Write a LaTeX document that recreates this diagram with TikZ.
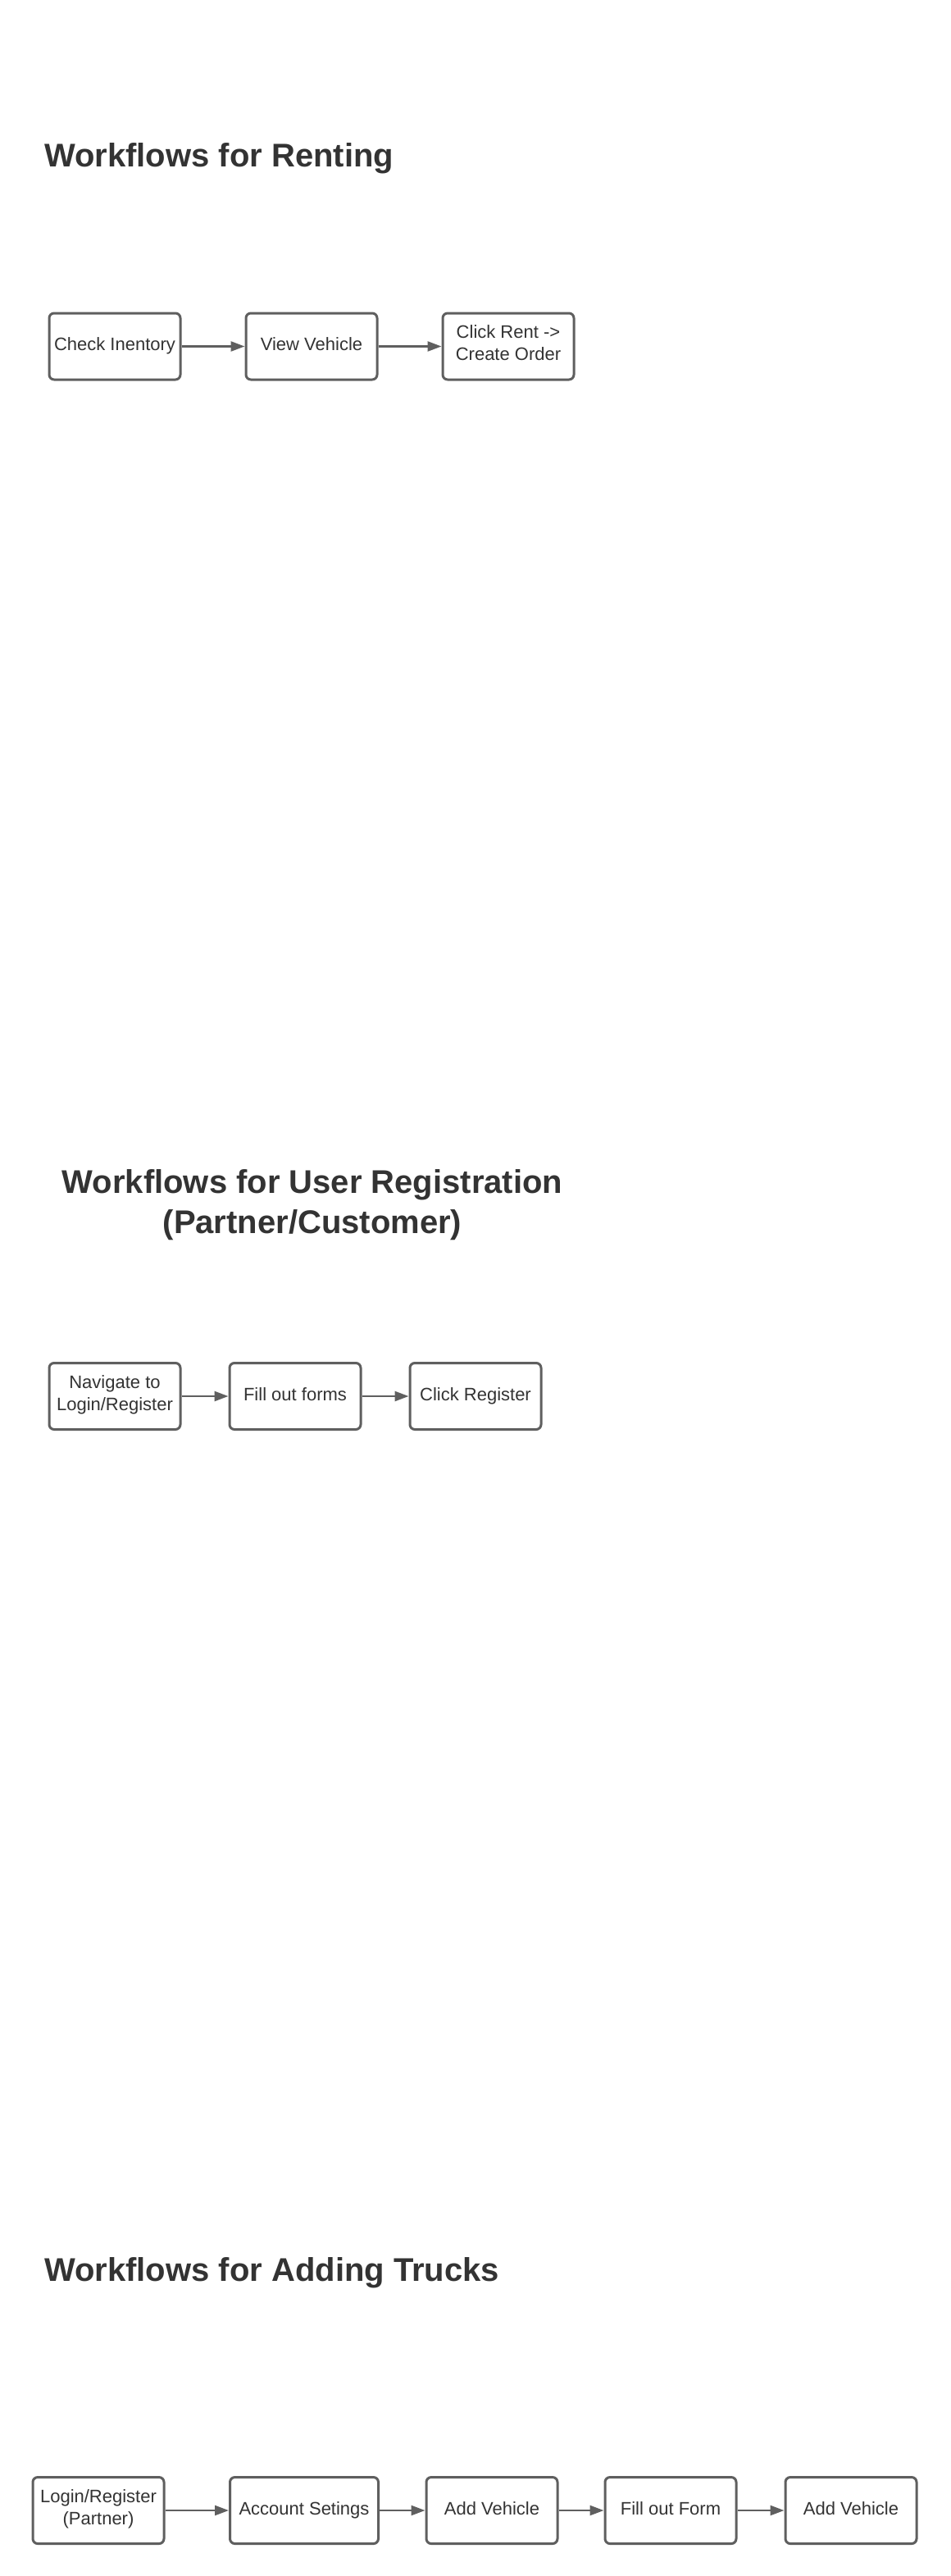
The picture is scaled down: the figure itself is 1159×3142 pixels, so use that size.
\documentclass[tikz,border=0pt]{standalone}
\usepackage{fontspec}
\setmainfont{Liberation Sans}
\usetikzlibrary{arrows.meta}
\definecolor{boxline}{HTML}{5F5F5F}
\definecolor{txt}{HTML}{333333}
\begin{document}
\begin{tikzpicture}[x=1pt,y=-1pt,
  titletext/.style={inner sep=0pt, text=txt, font=\bfseries\fontsize{40}{49}\selectfont, align=center},
  stepbox/.style={draw=boxline, line width=3pt, rounded corners=6pt, fill=white,
    minimum width=160pt, minimum height=81pt, inner sep=2pt, text=txt,
    font=\fontsize{22}{27}\selectfont, align=center,
    execute at begin node=\strut, execute at end node=\strut},
  flow/.style={draw=boxline, line width=2.5pt, -{Triangle[length=17pt,width=12pt]}}]
\useasboundingbox[fill=white] (0,0) rectangle (1159,3142);

% Section 1
\node[titletext, anchor=base west] (t1) at (54,203) {Workflows for Renting};
\node[stepbox] (r1) at (140,422.5) {Check Inentory};
\node[stepbox] (r2) at (380,422.5) {View Vehicle};
\node[stepbox] (r3) at (620,422.5) {Click Rent ->\\Create Order};
\draw[flow] (r1) -- (r2);
\draw[flow] (r2) -- (r3);

% Section 2
\node[titletext] (t2) at (381,1470) {Workflows for User Registration\\(Partner/Customer)};
\node[stepbox] (u1) at (140,1703) {Navigate to\\Login/Register};
\node[stepbox] (u2) at (360,1703) {Fill out forms};
\node[stepbox] (u3) at (580,1703) {Click Register};
\draw[flow] (u1) -- (u2);
\draw[flow] (u2) -- (u3);

% Section 3
\node[titletext, anchor=base west] (t3) at (54,2782) {Workflows for Adding Trucks};
\node[stepbox] (a1) at (120,3062) {Login/Register\\(Partner)};
\node[stepbox, minimum width=181pt] (a2) at (371,3062) {Account Setings};
\node[stepbox] (a3) at (600,3062) {Add Vehicle};
\node[stepbox] (a4) at (818,3062) {Fill out Form};
\node[stepbox] (a5) at (1038,3062) {Add Vehicle};
\draw[flow] (a1) -- (a2);
\draw[flow] (a2) -- (a3);
\draw[flow] (a3) -- (a4);
\draw[flow] (a4) -- (a5);
\end{tikzpicture}
\end{document}
